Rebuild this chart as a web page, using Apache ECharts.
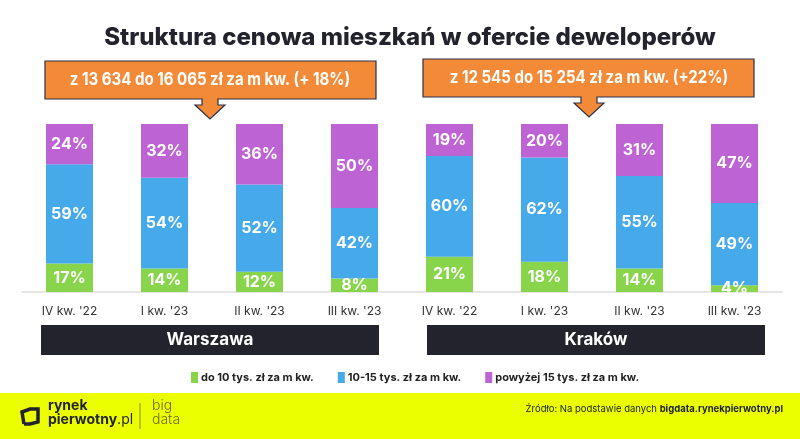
<!DOCTYPE html>
<html><head><meta charset="utf-8">
<script src="https://cdn.jsdelivr.net/npm/echarts@6/dist/echarts.min.js"></script>
<style>html,body{margin:0;padding:0;background:#fff}#c{width:800px;height:439px}</style>
</head><body><div id="c"></div>
<script>
const categories = ["IV kw. '22", "I kw. '23", "II kw. '23", "III kw. '23"];
const seriesNames = ['do 10 tys. zł za m kw.', '10-15 tys. zł za m kw.', 'powyżej 15 tys. zł za m kw.'];
const wawLow = [17, 14, 12, 8];
const wawMid = [59, 54, 52, 42];
const wawHigh = [24, 32, 36, 50];
const krkLow = [21, 18, 14, 4];
const krkMid = [60, 62, 55, 49];
const krkHigh = [19, 20, 31, 47];
const cities = ['Warszawa', 'Kraków'];
const callouts = ['z 13 634 do 16 065 zł za m kw. (+ 18%)', 'z 12 545 do 15 254 zł za m kw. (+22%)'];
const title = 'Struktura cenowa mieszkań w ofercie deweloperów';
const source1 = 'Źródło: Na podstawie danych ';
const source2 = 'bigdata.rynekpierwotny.pl';

const colors = ['#88D54B', '#45A9EA', '#BD63D3'];
const FONT = 'Inter, Roboto, "Open Sans", sans-serif';

function mkSeries(vals, gi) {
  return vals.map((d, i) => ({
    name: seriesNames[i], type: 'bar', stack: 's' + gi, xAxisIndex: gi, yAxisIndex: gi,
    data: d, barWidth: 47, itemStyle: { color: colors[i] },
    label: { show: true, position: 'inside', formatter: '{c}%', color: '#fff', fontSize: 16, fontWeight: 'bold', fontFamily: FONT },
    emphasis: { disabled: true }
  }));
}
function callout(x1, y1, x2, y2, tipX, tipY) {
  const sb = y2 + 6;
  return [[x1, y1], [x2, y1], [x2, y2], [tipX + 8, y2], [tipX + 8, sb], [tipX + 15, sb], [tipX, tipY], [tipX - 15, sb], [tipX - 8, sb], [tipX - 8, y2], [x1, y2]];
}
const chart = echarts.init(document.getElementById('c'));
const axisCommon = {
  type: 'category', data: categories,
  axisLine: { lineStyle: { color: '#e6e6e6', width: 2 } }, axisTick: { show: false },
  axisLabel: { color: '#333', fontSize: 12, fontFamily: FONT, margin: 13 }
};
chart.setOption({
  animation: false,
  grid: [
    { left: 22, top: 124, width: 380, height: 168 },
    { left: 402, top: 124, width: 380, height: 168 }
  ],
  xAxis: [Object.assign({ gridIndex: 0 }, axisCommon), Object.assign({ gridIndex: 1 }, axisCommon)],
  yAxis: [
    { gridIndex: 0, type: 'value', min: 0, max: 100, show: false },
    { gridIndex: 1, type: 'value', min: 0, max: 100, show: false }
  ],
  legend: {
    data: seriesNames.map((n, i) => ({ name: n, itemStyle: { color: colors[i] } })),
    left: 186, top: 367, itemWidth: 7, itemHeight: 11, icon: 'rect', itemGap: 24,
    selectedMode: false,
    textStyle: { color: '#222', fontSize: 11, fontWeight: 'bold', fontFamily: FONT, padding: [0, 0, 0, -2] }
  },
  series: mkSeries([wawLow, wawMid, wawHigh], 0).concat(mkSeries([krkLow, krkMid, krkHigh], 1)),
  graphic: [
    { type: 'text', x: 410, y: 38, style: { text: title, fill: '#23232e', fontSize: 24, fontWeight: 800, fontFamily: FONT, align: 'center', verticalAlign: 'middle' }, z: 10 },
    { type: 'polygon', shape: { points: callout(45, 61, 376, 99, 210, 119) }, style: { fill: '#F28A38', stroke: '#2b2f4a', lineWidth: 1.2 }, z: 10 },
    { type: 'polygon', shape: { points: callout(423, 59, 754, 97, 589, 117) }, style: { fill: '#F28A38', stroke: '#2b2f4a', lineWidth: 1.2 }, z: 10 },
    { type: 'text', x: 210, y: 80, scaleX: 0.86, style: { text: callouts[0], fill: '#fff', fontSize: 17.5, fontWeight: 'bold', fontFamily: FONT, align: 'center', verticalAlign: 'middle' }, z: 11 },
    { type: 'text', x: 589, y: 78, scaleX: 0.86, style: { text: callouts[1], fill: '#fff', fontSize: 17.5, fontWeight: 'bold', fontFamily: FONT, align: 'center', verticalAlign: 'middle' }, z: 11 },
    { type: 'rect', shape: { x: 41, y: 325, width: 338, height: 30 }, style: { fill: '#23232e' } },
    { type: 'rect', shape: { x: 427, y: 325, width: 338, height: 30 }, style: { fill: '#23232e' } },
    { type: 'text', x: 210, y: 340, style: { text: cities[0], fill: '#fff', fontSize: 17, fontWeight: 'bold', fontFamily: FONT, align: 'center', verticalAlign: 'middle' } },
    { type: 'text', x: 596, y: 340, style: { text: cities[1], fill: '#fff', fontSize: 17, fontWeight: 'bold', fontFamily: FONT, align: 'center', verticalAlign: 'middle' } },
    { type: 'rect', shape: { x: 0, y: 393, width: 800, height: 46 }, style: { fill: '#EBFF00' } },
    { type: 'polyline', shape: { points: [[24, 424], [22, 412], [30, 409], [38, 409], [38, 422], [30, 424], [24, 424]] }, style: { stroke: '#23232e', lineWidth: 3.5, fill: null } },
    { type: 'text', x: 48, y: 406, style: { text: 'rynek', fill: '#23232e', fontSize: 14, fontWeight: 'bold', fontFamily: FONT, verticalAlign: 'middle' } },
    { type: 'text', x: 48, y: 420, style: { text: '{a|pierwotny}{b|.pl}', rich: { a: { fill: '#23232e', fontSize: 14, fontWeight: 'bold', fontFamily: FONT }, b: { fill: '#23232e', fontSize: 14, fontWeight: 'normal', fontFamily: FONT } }, verticalAlign: 'middle' } },
    { type: 'line', shape: { x1: 140, y1: 403, x2: 140, y2: 429 }, style: { stroke: '#8a8a10', lineWidth: 1 } },
    { type: 'text', x: 152, y: 406, style: { text: 'big', fill: '#6b6b20', fontSize: 14, fontWeight: 300, fontFamily: FONT, verticalAlign: 'middle' } },
    { type: 'text', x: 152, y: 420, style: { text: 'data', fill: '#6b6b20', fontSize: 14, fontWeight: 300, fontFamily: FONT, verticalAlign: 'middle' } },
    { type: 'text', right: 17, top: 404, style: { text: '{a|' + source1 + '}{b|' + source2 + '}', rich: { a: { fill: '#222', fontSize: 9.5, fontFamily: FONT }, b: { fill: '#222', fontSize: 9.5, fontWeight: 'bold', fontFamily: FONT } } } }
  ]
});
</script></body></html>
